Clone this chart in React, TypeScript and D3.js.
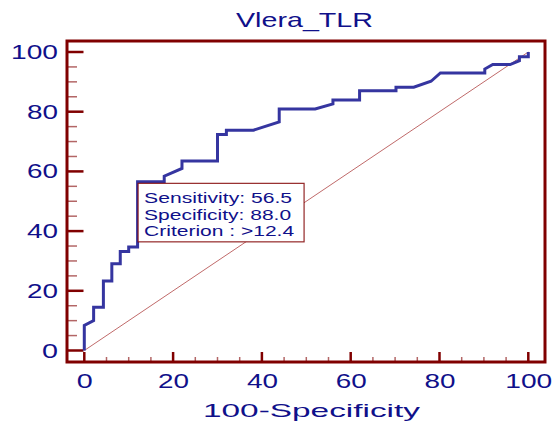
import * as d3 from "d3";
import React from "react";

// ROC curve vertices
const fpr = [0, 0, 2.1, 2.1, 4.3, 4.3, 6.2, 6.2, 8.1, 8.1, 10, 10, 12, 12, 18, 18, 22, 22, 30, 30, 32, 32, 38.1, 43.9, 43.9, 52, 56, 56, 62, 62, 70.2, 70.2, 74.2, 78.1, 80.2, 90.2, 90.2, 92, 95.9, 98, 98, 100, 100];
const tpr = [0, 8.4, 10, 14.5, 14.5, 23.3, 23.3, 29.1, 29.1, 33.2, 33.2, 34.7, 34.7, 56.5, 56.5, 58.4, 61, 63.5, 63.5, 72.4, 72.4, 73.8, 73.8, 76.6, 80.9, 80.9, 82.6, 83.9, 83.9, 87, 87, 88.2, 88.2, 90.2, 93, 93, 94.3, 95.8, 95.8, 97.1, 98.4, 98.4, 100];

const majorTicks = [0, 20, 40, 60, 80, 100];
const minorTicks = d3.range(0, 101, 5);
const boxLines = ["Sensitivity: 56.5", "Specificity: 88.0", "Criterion : >12.4"];
const cutoff = { fpr: 12, tpr: 56.5 };

const width = 558;
const height = 421;
const frameColor = "#800000";
const textColor = "#10108a";
const font = "'Liberation Sans', Arial, sans-serif";

// the original is horizontally stretched, so labels get fixed widths
const labelWidth = (s: string) => (s.length === 3 ? 47 : s.length === 2 ? 31 : 16);

export default function App() {
  const x = d3.scaleLinear().domain([0, 100]).range([84.3, 528.3]);
  const y = d3.scaleLinear().domain([0, 100]).range([350.5, 52]);

  const frame = { left: 67, right: 545, top: 41, bottom: 362 };

  const line = d3
    .line<number>()
    .x((d, i) => x(fpr[i]))
    .y((d) => y(d));

  const bx = x(cutoff.fpr) + 0.5;
  const by = y(cutoff.tpr) + 1.5;

  return (
    <svg
      width={width}
      height={height}
      style={{ position: "absolute", left: 0, top: 0, background: "white" }}
      fontFamily={font}
    >
      {/* title */}
      <text x={304.5} y={27} fontSize={21} fill={textColor} textAnchor="middle" textLength={137} lengthAdjust="spacingAndGlyphs">
        Vlera_TLR
      </text>

      {/* diagonal reference */}
      <line x1={x(0)} y1={y(0)} x2={x(100)} y2={y(100)} stroke="#c06a6a" strokeWidth={1} />

      {/* ticks */}
      <g stroke={frameColor}>
        {minorTicks.map((t) => {
          const major = majorTicks.includes(t);
          return (
            <g key={t} strokeWidth={major ? 2.5 : 1.5} strokeOpacity={major ? 1 : 0.6}>
              <line x1={x(t)} x2={x(t)} y1={frame.bottom} y2={frame.bottom - (major ? 10 : 5)} />
              <line x1={frame.left} x2={frame.left + (major ? 16.5 : 10)} y1={y(t)} y2={y(t)} />
            </g>
          );
        })}
      </g>

      {/* tick labels */}
      <g fill={textColor} fontSize={19.5}>
        {majorTicks.map((t) => (
          <text key={"x" + t} x={x(t) + 0.5} y={387.5} textAnchor="middle" textLength={labelWidth(String(t))} lengthAdjust="spacingAndGlyphs">
            {t}
          </text>
        ))}
        {majorTicks.map((t) => (
          <text key={"y" + t} x={58} y={y(t) + 7} textAnchor="end" textLength={labelWidth(String(t))} lengthAdjust="spacingAndGlyphs">
            {t}
          </text>
        ))}
      </g>

      {/* axis title */}
      <text x={311.5} y={416.5} fontSize={19} fill={textColor} textAnchor="middle" textLength={217} lengthAdjust="spacingAndGlyphs">
        100-Specificity
      </text>

      {/* ROC curve */}
      <path d={line(tpr) ?? ""} fill="none" stroke="#3535a0" strokeWidth={3} strokeLinejoin="miter" />

      {/* criterion box */}
      <g transform={`translate(${bx},${by})`}>
        <rect x={0} y={0} width={166} height={58.5} fill="white" stroke={frameColor} strokeOpacity={0.85} strokeWidth={1.2} />
        {boxLines.map((s, i) => (
          <text key={s} x={6} y={20 + i * 16.5} fontSize={14} fill={textColor} textLength={[148, 147, 150][i]} lengthAdjust="spacingAndGlyphs">
            {s}
          </text>
        ))}
      </g>

      {/* frame */}
      <rect
        x={frame.left}
        y={frame.top}
        width={frame.right - frame.left}
        height={frame.bottom - frame.top}
        fill="none"
        stroke={frameColor}
        strokeWidth={3}
      />
    </svg>
  );
}
